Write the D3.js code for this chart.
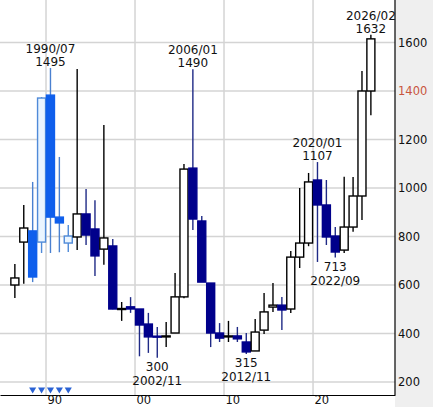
<!DOCTYPE html>
<html>
<head>
<meta charset="utf-8">
<script src="https://cdnjs.cloudflare.com/ajax/libs/d3/7.8.5/d3.min.js"></script>
<style>
body{margin:0;background:#fff;}
svg text{font-family:"DejaVu Sans",Verdana,sans-serif;}
</style>
</head>
<body>
<svg id="chart" width="433" height="407"></svg>
<script>
// yearly candles, values
var years  = [1986,1987,1988,1989,1990,1991,1992,1993,1994,1995,1996,1997,1998,1999,2000,2001,2002,2003,2004,2005,2006,2007,2008,2009,2010,2011,2012,2013,2014,2015,2016,2017,2018,2019,2020,2021,2022,2023,2024,2025,2026];
var opens  = [600,777,823,777,1383,880,773,798,893,831,748,761,501,510,501,439,389,386,402,551,1082,864,608,402,388,390,365,328,414,509,517,501,715,773,1033,930,802,744,839,967,1400];
var highs  = [687,930,1025,1375,1495,1128,847,1491,996,950,1260,790,530,550,501,485,427,447,650,1099,1490,885,608,443,452,427,402,460,567,608,551,740,1000,1062,1107,1033,839,1046,1045,1482,1632];
var lows   = [546,605,612,732,732,735,736,744,765,637,683,500,452,485,306,320,300,344,402,545,827,612,344,365,365,365,315,328,398,489,414,485,670,760,695,765,713,732,820,868,1300];
var closes = [629,835,633,1371,880,856,802,893,806,720,794,501,503,501,435,386,385,390,551,1078,872,612,402,381,390,378,324,406,489,517,497,715,773,1025,930,798,736,839,967,1400,1615];

// years drawn in the light blue scheme, with a marker below
var markedYears = [1988,1989,1990,1991,1992];

// high / low notes
var highNotes = [{year:1990,date:"1990/07",value:1495},{year:2006,date:"2006/01",value:1490},{year:2020,date:"2020/01",value:1107},{year:2026,date:"2026/02",value:1632}];
var lowNotes  = [{year:2002,date:"2002/11",value:300},{year:2012,date:"2012/11",value:315},{year:2022,date:"2022/09",value:713}];

var priceTicks = [200,400,600,800,1000,1200,1400,1600];
var yearTicks  = [1990,2000,2010,2020];

var _color = {
	up: "#ffffff",
	upStroke: "#000000",
	down: "#00008b",
	downWick: "#1f2a86",
	markUp: "#eaf5ff",
	markUpStroke: "#4f8ad8",
	markDown: "#0f5fec",
	markWick: "#4a80d0",
	grid: "#d4d4d4",
	hot: "#c8553d"
};

var svg = d3.select("#chart"),
	plotW = 395,
	plotH = 395;

var data = years.map(function(y,i){
	return {year:y, open:opens[i], high:highs[i], low:lows[i], close:closes[i], marked: markedYears.indexOf(y) >= 0};
});

var x = d3.scaleLinear().domain([1984.83, 2029.21]).range([0, plotW]),
	y = d3.scaleLinear().domain([200, 1600]).range([382, 42.5]);

var slot = x(1991) - x(1990),
	bodyW = slot * 0.9;

// background + right panel
svg.append("rect").attr("width",433).attr("height",407).attr("fill","#fff");
svg.append("rect").attr("x",plotW).attr("y",0).attr("width",433-plotW).attr("height",407).attr("fill","#efefef");

// grid
svg.append("g").attr("class","grid").selectAll("line.h")
	.data(priceTicks).enter().append("line")
	.attr("x1",0).attr("x2",plotW)
	.attr("y1",function(d){return y(d);}).attr("y2",function(d){return y(d);})
	.attr("stroke",_color.grid).attr("stroke-width",1.5);

svg.select(".grid").selectAll("line.v")
	.data(yearTicks).enter().append("line")
	.attr("x1",function(d){return x(d);}).attr("x2",function(d){return x(d);})
	.attr("y1",0).attr("y2",plotH)
	.attr("stroke",_color.grid).attr("stroke-width",1.5);

// candles
var candles = svg.append("g").attr("class","candles").selectAll("g")
	.data(data).enter().append("g");

var isUp = function(d){ return d.close >= d.open; };

var wickColor = function(d){
	if(d.marked) return isUp(d) ? _color.markUpStroke : _color.markWick;
	return isUp(d) ? _color.upStroke : _color.downWick;
};

candles.append("line")
	.attr("x1",function(d){return x(d.year+0.5);})
	.attr("x2",function(d){return x(d.year+0.5);})
	.attr("y1",function(d){return y(d.high);})
	.attr("y2",function(d){return y(d.low);})
	.attr("stroke",wickColor)
	.attr("stroke-width",1.4);

candles.append("rect")
	.attr("x",function(d){return x(d.year+0.5) - bodyW/2;})
	.attr("width",bodyW)
	.attr("y",function(d){return y(Math.max(d.open,d.close));})
	.attr("height",function(d){return Math.max(1, Math.abs(y(d.open)-y(d.close)));})
	.attr("fill",function(d){
		if(d.marked) return isUp(d) ? _color.markUp : _color.markDown;
		return isUp(d) ? _color.up : _color.down;
	})
	.attr("stroke",function(d){
		if(d.marked) return isUp(d) ? _color.markUpStroke : _color.markDown;
		return isUp(d) ? _color.upStroke : _color.down;
	})
	.attr("stroke-width",1.4);

// markers under the blue years
svg.append("g").selectAll("path")
	.data(markedYears).enter().append("path")
	.attr("d", d3.symbol().type(d3.symbolTriangle).size(22))
	.attr("transform",function(d){return "translate(" + x(d+0.5) + ",389.5) rotate(180)";})
	.attr("fill","#2a62d4");

// notes
var notes = svg.append("g").attr("font-size","12px").attr("text-anchor","middle").attr("fill","#111");

highNotes.forEach(function(n){
	var cx = x(n.year+0.5), hy = y(n.value);
	notes.append("text").attr("x",cx).attr("y",hy-15).text(n.date);
	notes.append("text").attr("x",cx).attr("y",hy-2).text(n.value);
});

lowNotes.forEach(function(n){
	var cx = x(n.year+0.5), ly = y(n.value);
	notes.append("text").attr("x",cx).attr("y",ly+13).text(n.value);
	notes.append("text").attr("x",cx).attr("y",ly+27).text(n.date);
});

// axes
var yAxis = d3.axisRight(y).tickValues(priceTicks).tickSize(0).tickPadding(3).tickFormat(d3.format("d")),
	xAxis = d3.axisBottom(x).tickValues(yearTicks).tickSize(0).tickSizeOuter(0)
		.tickFormat(function(d){ return String(d).slice(2); });

var gy = svg.append("g").attr("transform","translate(" + plotW + ",0)").call(yAxis);
gy.select(".domain").remove();
gy.selectAll("text").attr("font-size","11.5px").attr("fill",function(d){ return d === 1400 ? _color.hot : "#111"; });
svg.append("line").attr("x1",plotW).attr("x2",plotW).attr("y1",0).attr("y2",plotH)
	.attr("stroke","#000").attr("stroke-width",1.2);

var gx = svg.append("g").attr("transform","translate(0," + plotH + ")").call(xAxis);
gx.select(".domain").attr("stroke","#000").attr("stroke-width",1.2);
gx.selectAll("text").attr("font-size","11.5px").attr("fill","#111")
	.attr("text-anchor","start").attr("dx","1").attr("dy","0.5em");
</script>
</body>
</html>
